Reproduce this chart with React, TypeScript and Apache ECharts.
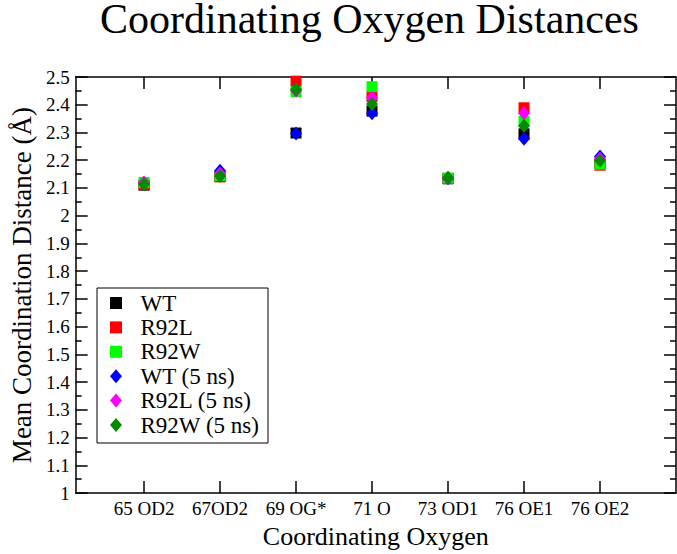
import React, { useEffect, useRef } from "react";
import * as echarts from "echarts";

const categories = ["65 OD2", "67OD2", "69 OG*", "71 O", "73 OD1", "76 OE1", "76 OE2"];
const seriesNames = ["WT", "R92L", "R92W", "WT (5 ns)", "R92L (5 ns)", "R92W (5 ns)"];
const wt = [2.11, 2.142, 2.298, 2.377, 2.133, 2.295, 2.19];
const r92l = [2.112, 2.14, 2.485, 2.43, 2.134, 2.389, 2.182];
const r92w = [2.12, 2.145, 2.447, 2.465, 2.136, 2.34, 2.186];
const wt5 = [2.118, 2.162, 2.296, 2.369, 2.135, 2.277, 2.213];
const r92l5 = [2.12, 2.152, 2.45, 2.425, 2.136, 2.369, 2.205];
const r92w5 = [2.113, 2.143, 2.455, 2.403, 2.137, 2.324, 2.198];
const colors = ["#000000", "#ff0000", "#00ff00", "#0000ff", "#ff00ff", "#008b00"];
const symbols = ["rect", "rect", "rect", "diamond", "diamond", "diamond"];
const yTickMin = 1;
const yTickMax = 2.5;
const yTickStep = 0.1;

const FONT = "Liberation Serif";

function buildLegend() {
  const boxX = 97;
  const boxY = 288;
  const boxW = 171;
  const boxH = 155;
  const firstY = 303;
  const rowH = 24.4;
  const symX = 116;
  const textX = 140.5;
  const children: any[] = [
    {
      type: "rect",
      shape: { x: boxX, y: boxY, width: boxW, height: boxH },
      style: { fill: "#fff", stroke: "#000", lineWidth: 1 },
    },
  ];
  seriesNames.forEach((name, i) => {
    const cy = firstY + i * rowH;
    if (symbols[i] === "rect") {
      children.push({
        type: "rect",
        shape: { x: symX - 6, y: cy - 6, width: 12, height: 12 },
        style: { fill: colors[i] },
      });
    } else {
      children.push({
        type: "polygon",
        shape: { points: [[symX, cy - 7], [symX + 6, cy], [symX, cy + 7], [symX - 6, cy]] },
        style: { fill: colors[i] },
      });
    }
    children.push({
      type: "text",
      x: textX,
      y: cy,
      style: {
        text: name,
        fill: "#000",
        font: `23px ${FONT}`,
        textAlign: "left",
        textVerticalAlign: "middle",
      },
    });
  });
  return { type: "group", z: 100, children };
}

export default function App() {
  const ref = useRef<HTMLDivElement>(null);
  useEffect(() => {
    if (!ref.current) return;
    const chart = echarts.init(ref.current, null, { renderer: "svg" });
    const values = [wt, r92l, r92w, wt5, r92l5, r92w5];
    const tickVals = categories.map((_, i) => i + 1);
    const axisLine = { show: true, lineStyle: { color: "#000", width: 1.5 } };
    const series = values.map((vals, s) => ({
      name: seriesNames[s],
      type: "scatter",
      symbol: symbols[s],
      symbolSize: symbols[s] === "rect" ? 11 : [12, 14],
      itemStyle: { color: colors[s], opacity: 1 },
      data: vals.map((v, i) => [i + 1, v]),
      z: 2 + s,
    }));
    chart.setOption({
      animation: false,
      textStyle: { fontFamily: FONT },
      title: {
        text: "Coordinating Oxygen Distances",
        left: 100,
        top: -2,
        padding: 0,
        textStyle: { fontFamily: FONT, fontSize: 42, fontWeight: "normal", color: "#000" },
      },
      graphic: [buildLegend()],
      grid: { left: 67.6, right: 1, top: 77, bottom: 52 },
      xAxis: [
        {
          type: "value",
          min: 0.1,
          max: 8,
          position: "bottom",
          name: "Coordinating Oxygen",
          nameLocation: "middle",
          nameGap: 22,
          nameTextStyle: { fontFamily: FONT, fontSize: 26, color: "#000" },
          axisLine,
          splitLine: { show: false },
          axisTick: { show: true, inside: true, length: 12, customValues: tickVals, lineStyle: { color: "#000", width: 1.5 } },
          axisLabel: {
            show: true,
            customValues: tickVals,
            margin: 6,
            fontFamily: FONT,
            fontSize: 19,
            color: "#000",
            formatter: (v: number) => categories[Math.round(v) - 1] ?? "",
          },
        },
        {
          type: "value",
          min: 0.1,
          max: 8,
          position: "top",
          axisLine,
          splitLine: { show: false },
          axisTick: { show: true, inside: true, length: 12, customValues: tickVals, lineStyle: { color: "#000", width: 1.5 } },
          axisLabel: { show: false },
        },
      ],
      yAxis: [
        {
          type: "value",
          min: yTickMin,
          max: yTickMax,
          interval: yTickStep,
          position: "left",
          name: "Mean Coordination Distance (Å)",
          nameLocation: "middle",
          nameGap: 38,
          nameTextStyle: { fontFamily: FONT, fontSize: 27, color: "#000" },
          axisLine,
          splitLine: { show: false },
          axisTick: { show: true, inside: true, length: 12, lineStyle: { color: "#000", width: 1.5 } },
          minorTick: { show: true, splitNumber: 2, length: 6, lineStyle: { color: "#000", width: 1.5 } },
          axisLabel: { margin: 6, fontFamily: FONT, fontSize: 19, color: "#000" },
        },
        {
          type: "value",
          min: yTickMin,
          max: yTickMax,
          interval: yTickStep,
          position: "right",
          axisLine,
          splitLine: { show: false },
          axisTick: { show: true, inside: true, length: 12, lineStyle: { color: "#000", width: 1.5 } },
          minorTick: { show: true, splitNumber: 2, length: 6, lineStyle: { color: "#000", width: 1.5 } },
          axisLabel: { show: false },
        },
      ],
      series,
    });
    return () => chart.dispose();
  }, []);
  return <div ref={ref} style={{ width: 677, height: 554, position: "absolute", left: 0, top: 0, background: "#fff" }} />;
}
